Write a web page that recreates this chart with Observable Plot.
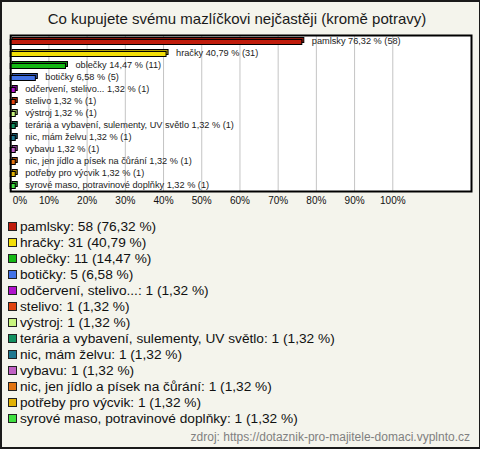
<!DOCTYPE html>
<html><head><meta charset="utf-8">
<script src="https://cdn.jsdelivr.net/npm/d3@7"></script>
<script src="https://cdn.jsdelivr.net/npm/@observablehq/plot@0.6"></script>
<style>
html,body{margin:0;padding:0;}
body{width:480px;height:449px;position:relative;overflow:hidden;background:#f4f4ec;font-family:"Liberation Sans",Arial,sans-serif;}
#border{position:absolute;left:0;top:0;width:480px;height:449px;box-sizing:border-box;border:2px solid #1a1a1a;border-right-width:1px;pointer-events:none}
#title{position:absolute;left:0;top:10px;width:474px;text-align:center;font-size:15px;line-height:18px;color:#1a1a1a;white-space:nowrap}
#chart{position:absolute;left:0;top:28px}
#legend{position:absolute;left:8px;top:218.7px}
.item{height:16px;line-height:16px;font-size:13.7px;color:#111;white-space:nowrap;display:flex;align-items:center}
.sw{width:9px;height:9px;box-sizing:border-box;border:1px solid #222;margin-right:3px;flex:none}
#footer{position:absolute;right:10px;top:430px;font-size:12px;line-height:14px;color:#808080;white-space:nowrap}
</style>
</head><body>
<div id="title">Co kupujete svému mazlíčkovi nejčastěji (kromě potravy)</div>
<div id="chart"></div>
<div id="legend"></div>
<div id="footer">zdroj: https://dotaznik-pro-majitele-domaci.vyplnto.cz</div>
<div id="border"></div>
<script>
const categories = ["pamlsky","hračky","oblečky","botičky","odčervení, stelivo...","stelivo","výstroj","terária a vybavení, sulementy, UV světlo","nic, mám želvu","vybavu","nic, jen jídlo a písek na čůrání","potřeby pro výcvik","syrové maso, potravinové doplňky"];
const counts = [58,31,11,5,1,1,1,1,1,1,1,1,1];
const percents = [76.32,40.79,14.47,6.58,1.32,1.32,1.32,1.32,1.32,1.32,1.32,1.32,1.32];
const colors = ["#c01c0c","#f2de08","#14b814","#4272e6","#b012cc","#e0420e","#c8f47e","#129060","#1f7890","#c060c4","#e27412","#e2b206","#40e040"];
const xTicks = [0,10,20,30,40,50,60,70,80,90,100];
const tickLabels = ["0%","10%","20%","30%","40%","50%","60%","70%","80%","90%","100%"];

const fmt = v => v.toFixed(2).replace(".", ",");
const rows = categories.map((c,i)=>({cat:c, count:counts[i], pct:percents[i], color:colors[i], dark:d3.color(colors[i]).darker(0.9).formatHex()}));
const tickData = xTicks.map((v,i)=>({v, label:tickLabels[i]}));
const font = "Liberation Sans, Arial, sans-serif";

const chart = Plot.plot({
  width:480, height:190,
  marginLeft:10.2, marginRight:9, marginTop:7, marginBottom:27,
  x:{domain:[0,120.6], axis:null},
  y:{domain:categories, axis:null, padding:0},
  color:{type:"identity"},
  style:{background:"transparent", fontFamily:font},
  marks:[
    Plot.frame({fill:"#ffffff", stroke:"none"}),
    Plot.ruleX(xTicks.slice(1), {stroke:"#c4c4c4"}),
    Plot.barX(rows, {x:"pct", y:"cat", fill:"dark", stroke:"#000", strokeWidth:1, insetTop:4.5, insetBottom:2.5, dx:2, dy:-2}),
    Plot.barX(rows, {x:"pct", y:"cat", fill:"color", stroke:"#000", strokeWidth:1, insetTop:4.5, insetBottom:2.5}),
    Plot.text(rows, {x:"pct", y:"cat", text:d=>`${d.cat} ${fmt(d.pct)} % (${d.count})`, textAnchor:"start", dx:9.5, fontSize:9.2, fill:"#222"}),
    Plot.text(tickData.slice(1), {x:"v", text:"label", frameAnchor:"bottom", dy:12.5, fontSize:10, fill:"#111"}),
    Plot.text(tickData.slice(0,1), {x:"v", text:"label", frameAnchor:"bottom", dy:12.5, dx:2, textAnchor:"start", fontSize:10, fill:"#111"}),
    Plot.frame({stroke:"#000", strokeWidth:2})
  ]
});
document.getElementById("chart").appendChild(chart);

const legend = document.getElementById("legend");
rows.forEach(r=>{
  const it = document.createElement("div");
  it.className = "item";
  const sw = document.createElement("span");
  sw.className = "sw";
  sw.style.background = r.color;
  it.appendChild(sw);
  it.appendChild(document.createTextNode(`${r.cat}: ${r.count} (${fmt(r.pct)} %)`));
  legend.appendChild(it);
});
</script>
</body></html>
